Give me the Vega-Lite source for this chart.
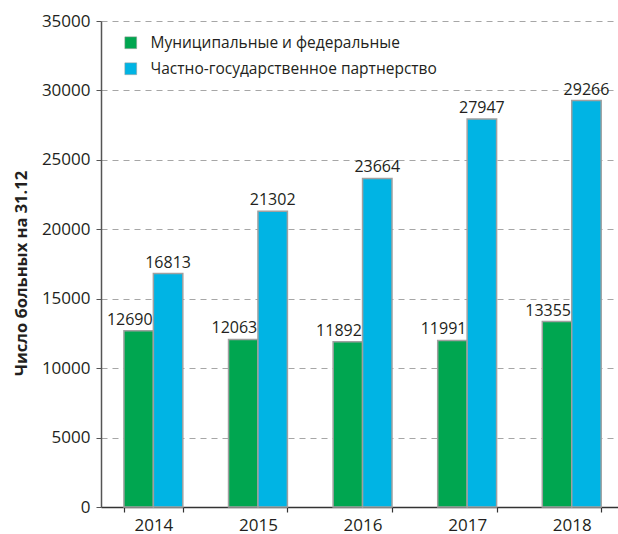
{
  "$schema": "https://vega.github.io/schema/vega-lite/v6.json",
  "width": 517,
  "height": 486,
  "autosize": {"type": "none"},
  "padding": {"left": 101, "top": 21, "right": 0, "bottom": 27},
  "config": {
    "font": "Open Sans",
    "view": {"stroke": null},
    "axis": {"labelColor": "#231f20", "titleColor": "#231f20"}
  },
  "data": {
    "values": [
      {"year": "2014", "series": "Муниципальные и федеральные", "value": 12690},
      {"year": "2014", "series": "Частно-государственное партнерство", "value": 16813},
      {"year": "2015", "series": "Муниципальные и федеральные", "value": 12063},
      {"year": "2015", "series": "Частно-государственное партнерство", "value": 21302},
      {"year": "2016", "series": "Муниципальные и федеральные", "value": 11892},
      {"year": "2016", "series": "Частно-государственное партнерство", "value": 23664},
      {"year": "2017", "series": "Муниципальные и федеральные", "value": 11991},
      {"year": "2017", "series": "Частно-государственное партнерство", "value": 27947},
      {"year": "2018", "series": "Муниципальные и федеральные", "value": 13355},
      {"year": "2018", "series": "Частно-государственное партнерство", "value": 29266}
    ]
  },
  "encoding": {
    "x": {
      "field": "year", "type": "nominal",
      "scale": {"paddingInner": 0.437, "paddingOuter": 0.19, "align": 0.577},
      "axis": {
        "title": null, "labelAngle": 0, "labelFontSize": 17, "labelPadding": 5,
        "tickBand": "extent", "tickSize": 5, "tickColor": "#333", "domainColor": "#333",
        "domainWidth": 1.5, "tickWidth": 1.2, "grid": false
      }
    },
    "xOffset": {"field": "series", "type": "nominal", "scale": {"paddingInner": 0, "paddingOuter": 0}},
    "y": {
      "field": "value", "type": "quantitative",
      "scale": {"domain": [0, 35000], "nice": false},
      "axis": {
        "title": "Число больных на 31.12", "titleFontSize": 16.5, "titleFontWeight": "bold",
        "titleX": -80, "titleY": 252, "titleBaseline": "middle", "titleAngle": -90,
        "values": [0, 5000, 10000, 15000, 20000, 25000, 30000, 35000],
        "format": "d", "labelFontSize": 17, "labelPadding": 6,
        "tickSize": 5, "tickColor": "#555", "domainColor": "#555", "domainWidth": 1.5,
        "grid": true, "gridColor": "#a6a6a6", "gridDash": [6, 5], "gridWidth": 1.2
      }
    }
  },
  "layer": [
    {
      "mark": {"type": "bar", "stroke": "#a0a0a0", "strokeWidth": 1.5},
      "encoding": {
        "color": {
          "field": "series", "type": "nominal",
          "scale": {
            "domain": ["Муниципальные и федеральные", "Частно-государственное партнерство"],
            "range": ["#00a650", "#00b4e4"]
          },
          "legend": {
            "title": null, "orient": "none", "legendX": 22, "legendY": 14,
            "padding": 0, "symbolType": "square", "symbolSize": 140,
            "symbolStrokeColor": "#999", "symbolStrokeWidth": 0.5,
            "labelFontSize": 15.5, "labelColor": "#231f20", "labelOffset": 12,
            "rowPadding": 9, "labelLimit": 400
          }
        }
      }
    },
    {
      "transform": [{"filter": "datum.series === 'Муниципальные и федеральные'"}],
      "mark": {"type": "text", "align": "right", "baseline": "alphabetic", "dx": 14, "dy": -6, "fontSize": 16, "color": "#231f20"},
      "encoding": {"text": {"field": "value", "type": "quantitative", "format": "d"}}
    },
    {
      "transform": [{"filter": "datum.series === 'Частно-государственное партнерство'"}],
      "mark": {"type": "text", "align": "center", "baseline": "alphabetic", "dy": -6, "fontSize": 16, "color": "#231f20"},
      "encoding": {"text": {"field": "value", "type": "quantitative", "format": "d"}}
    }
  ]
}
